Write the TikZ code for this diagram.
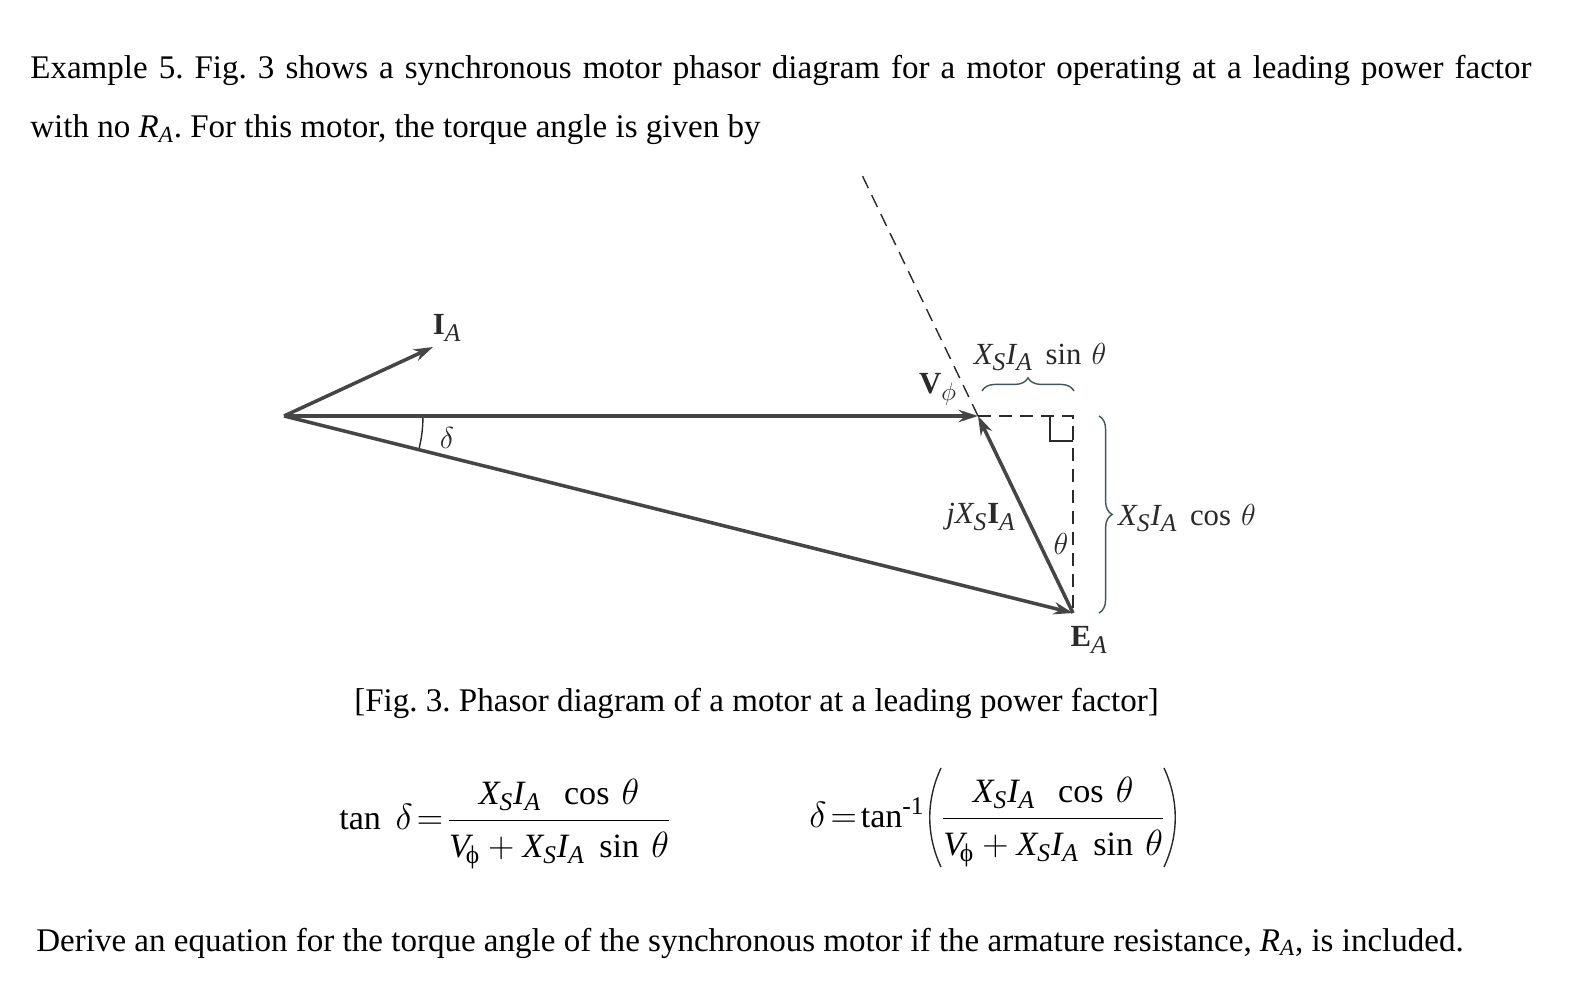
\documentclass[tikz,border=0pt]{standalone}
\usepackage{amsmath}
\usepackage{amssymb}
\usepackage{fontspec}
\setmainfont{Liberation Serif}
\usetikzlibrary{arrows.meta}
\usetikzlibrary{decorations.pathreplacing}
\definecolor{phasorgray}{HTML}{454545}
\definecolor{labelgray}{HTML}{2A2A2A}
\definecolor{bracegray}{HTML}{3F5560}
\DeclareMathSizes{17.5}{17.5}{14.5}{12}
\DeclareMathSizes{19.4}{19.4}{14.5}{12}
\newcommand{\mi}[1]{\mathit{#1}}
\newcommand{\XsIa}{\mi{X}_{\mi{S}}\mi{I}_{\mi{A}}}
\newcommand{\eqfrac}{\genfrac{}{}{0.9pt}{0}{\rule[-4pt]{0pt}{10pt}\XsIa\ \ \cos\,\theta}{\rule{0pt}{18pt}\mi{V}_{\!\text{ϕ}} + \XsIa\ \sin\,\theta}}
\tikzset{
body text/.style = { inner sep = 0pt, font = \fontsize{18.8}{22}\selectfont\frenchspacing },
diagram label/.style = { inner sep = 0pt, text = labelgray, font = \fontsize{17.5}{21}\selectfont },
eq text/.style = { inner sep = 0pt, font = \fontsize{19.4}{24}\selectfont },
phasor/.style = { draw = phasorgray, line width = 2pt, -{Stealth[length = 11pt, width = 7pt]} },
guide/.style = { draw = labelgray, line width = 0.8pt, dash pattern = on 7.5pt off 4.5pt },
thin mark/.style = { draw = labelgray, line width = 0.8pt },
brace mark/.style = { draw = bracegray, line width = 0.8pt, decorate, decoration = {brace, amplitude = 7.5pt} },
}
\begin{document}
\begin{tikzpicture}[x=0.02cm, y=-0.02cm]
      \useasboundingbox (0,0) rectangle (1590,1000);
      \begin{scope}[every node/.style={body text, anchor=base west}]
        \node (line1) at (30,79) {\makebox[30.03cm][s]{Example 5. Fig. 3 shows a synchronous motor phasor diagram for a motor operating at a leading power factor}};
        \node (line2) at (30,138) {with no $\mi{R}_{\mi{A}}$. For this motor, the torque angle is given by};
        \node (caption) at (354,711) {[Fig. 3. Phasor diagram of a motor at a leading power factor]};
        \node (line3) at (36,951) {Derive an equation for the torque angle of the synchronous motor if the armature resistance, $\mi{R}_{\mi{A}}$, is included.};
      \end{scope}
      \coordinate (origin) at (284,416);
      \coordinate (vtip) at (978,416);
      \coordinate (etip) at (1073,613);
      \coordinate (itip) at (433,347);
      \coordinate (dashtop) at (862,175);
      \coordinate (corner) at (1073,416);
      \coordinate (sqa) at (1050,416);
      \coordinate (sqb) at (1050,441);
      \coordinate (sqc) at (1073,441);
      \coordinate (arca) at (423,416);
      \coordinate (arcb) at (419,449);
      \coordinate (bracea) at (982,391);
      \coordinate (braceb) at (1074,391);
      \coordinate (bracec) at (1099,416);
      \coordinate (braced) at (1099,613);
      \begin{scope}
        \path [guide] (vtip) -- (dashtop);
        \path [guide] (vtip) -- (corner) -- (etip);
        \path [thin mark] (sqa) -- (sqb) -- (sqc);
        \path [thin mark] (arca) to [bend left=6] (arcb);
        \path [brace mark] (bracea) -- (braceb);
        \path [brace mark] (bracec) -- (braced);
      \end{scope}
      \begin{scope}
        \path [phasor] (origin) -- (itip);
        \path [phasor] (origin) -- (vtip);
        \path [phasor] (origin) -- (etip);
        \path [phasor] (etip) -- (vtip);
      \end{scope}
      \begin{scope}[every node/.style={diagram label}]
        \node (ia) at (447,328) {$\mathbf{I}_{\mi{A}}$};
        \node (delta) at (447,438) {$\delta$};
        \node (vphi) at (938,389) {$\mathbf{V}_{\phi}$};
        \node (sinlabel) at (1040,357) {$\XsIa\ \sin\,\theta$};
        \node (jlabel) at (981,517) {$\mi{j}\mi{X}_{\mi{S}}\mathbf{I}_{\mi{A}}$};
        \node (thetalabel) at (1061,544) {$\theta$};
        \node (coslabel) at (1187,518) {$\XsIa\ \cos\,\theta$};
        \node (ea) at (1089,640) {$\mathbf{E}_{\mi{A}}$};
      \end{scope}
      \begin{scope}[every node/.style={eq text}]
        \node [anchor=west] (eqtan) at (339,824) {$\tan\ \delta\!=\!\eqfrac$};
        \node [anchor=west] (eqatan) at (809,822) {$\delta\!=\!\tan^{\text{-1}}\hspace{6pt}\eqfrac$};
      \end{scope}
      \begin{scope}
        \coordinate (lpa) at (941,768);
        \coordinate (lpb) at (941,867);
        \coordinate (rpa) at (1164,768);
        \coordinate (rpb) at (1164,867);
        \path [thin mark] (lpa) .. controls (926,800) and (926,835) .. (lpb);
        \path [thin mark] (rpa) .. controls (1179,800) and (1179,835) .. (rpb);
      \end{scope}
    \end{tikzpicture}
\end{document}
